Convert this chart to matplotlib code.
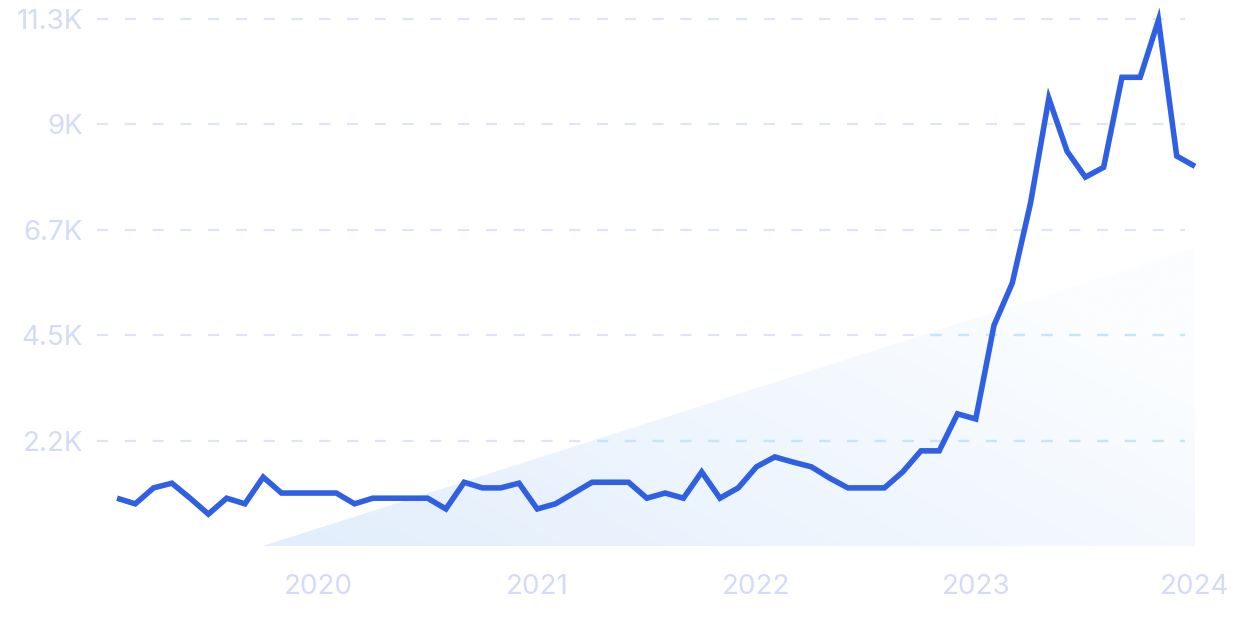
import numpy as np
import matplotlib
matplotlib.use("Agg")
import matplotlib.pyplot as plt
from matplotlib.patches import Polygon

# ---- data ----
start_year, start_month = 2019, 2  # first data point: Feb 2019
values = [1020, 900, 1240, 1340, 1020, 680, 1020, 900, 1470, 1130,
          1130, 1130, 1130, 900, 1020, 1020, 1020, 1020, 790, 1360,
          1240, 1240, 1340, 790, 900, 1130, 1360, 1360, 1360, 1020,
          1130, 1020, 1580, 1020, 1240, 1690, 1900, 1790, 1690, 1450,
          1240, 1240, 1240, 1580, 2030, 2030, 2820, 2710, 4710, 5610,
          7320, 9550, 8420, 7870, 8080, 10000, 10000, 11220, 8320, 8100]
trend_x = [2019.75, 2024.0]   # Oct 2019 -> Jan 2024
trend_y = [0, 6350]
yticks = [2250, 4500, 6750, 9000, 11250]
ytick_labels = ["2.2K", "4.5K", "6.7K", "9K", "11.3K"]
xticks = [2020, 2021, 2022, 2023, 2024]
xtick_labels = ["2020", "2021", "2022", "2023", "2024"]

t = np.array([start_year + (start_month - 1 + i) / 12 for i in range(len(values))])

plt.rcParams['font.family'] = ['Inter', 'DejaVu Sans']
fig = plt.figure(figsize=(12.4, 6.2), dpi=100)
ax = fig.add_axes([97 / 1240, 74 / 620, 1103 / 1240, 539 / 620])
x0 = 2020 - (318 - 97) / 219.25
x1 = 2024 + 5 / 219.25
ax.set_xlim(x0, x1)
ax.set_ylim(0, 11500)

label_col = '#d3dbf6'

# gradient trend area
poly = Polygon([[trend_x[0], trend_y[0]], [trend_x[1], trend_y[0]],
                [trend_x[1], trend_y[1]]], closed=True, facecolor='none',
               edgecolor='none', transform=ax.transData)
ax.add_patch(poly)
nx, ny = 200, 100
gx = np.linspace(0, 1, nx)[None, :]
gy = np.linspace(0, 1, ny)[:, None]
f = np.clip(0.75 * gx + 0.45 * (1 - gy), 0, 1)  # 0 = strong, 1 = faint
c0 = np.array([0xe2, 0xee, 0xfc]) / 255
c1 = np.array([0xfb, 0xfd, 0xff]) / 255
img = c0[None, None, :] * (1 - f[..., None]) + c1[None, None, :] * f[..., None]
im = ax.imshow(img, extent=[trend_x[0], trend_x[1], 0, trend_y[1]],
               origin='upper', aspect='auto', zorder=1, interpolation='bilinear')
im.set_clip_path(poly)

# grid lines
gx_end = (1185 - 97) / 1103
for yv in yticks:
    ax.axhline(yv, xmin=0, xmax=gx_end, color='#dfe5f7', lw=1.6,
               dashes=(5, 7.5), zorder=2)
    l2 = ax.axhline(yv, xmin=0, xmax=gx_end, color='#c5e5fb', lw=1.6,
                    dashes=(5, 7.5), zorder=2.1)
    l2.set_clip_path(poly)

ax.plot(t, values, color='#2f60e4', lw=4.0, solid_joinstyle='miter',
        solid_capstyle='butt', zorder=5, clip_on=False)

for s in ax.spines.values():
    s.set_visible(False)
ax.set_yticks(yticks)
ax.set_yticklabels(ytick_labels)
ax.set_xticks(xticks)
ax.set_xticklabels(xtick_labels)
ax.tick_params(axis='both', length=0, colors=label_col, labelsize=20)
ax.tick_params(axis='y', pad=10)
ax.tick_params(axis='x', pad=20)

fig.savefig('out.png', dpi=100, facecolor='white')
